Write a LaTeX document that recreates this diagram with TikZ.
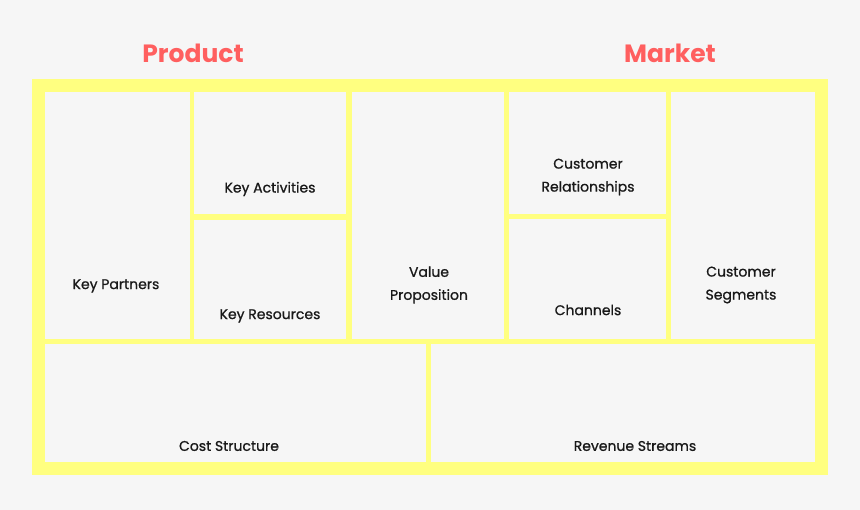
\documentclass[tikz,border=0pt]{standalone}
\usepackage{fontspec}
\setmainfont{Poppins}
\newfontfamily\lblfont[BoldFont=*,BoldFeatures={FakeBold=0.9}]{Poppins}
\definecolor{bg}{HTML}{F6F6F6}
\definecolor{yel}{HTML}{FFFF80}
\definecolor{red}{HTML}{FF5F5F}
\begin{document}
\begin{tikzpicture}[x=1pt,y=-1pt,
  cell/.style={fill=bg,draw=none},
  lbl/.style={font=\lblfont\bfseries\fontsize{14}{23}\selectfont,align=center,text=black!90},
  ttl/.style={font=\fontsize{25}{28}\selectfont\bfseries,text=red}]
\fill[bg] (0,0) rectangle (860,510);
\useasboundingbox (0,0) rectangle (860,510);
\fill[yel] (32,79) rectangle (828,475);
\fill[cell] (45,92) rectangle (190,339);
\fill[cell] (194,92) rectangle (346,214);
\fill[cell] (194,220) rectangle (346,339);
\fill[cell] (352,92) rectangle (504,339);
\fill[cell] (509,92) rectangle (666,214);
\fill[cell] (509,219) rectangle (666,339);
\fill[cell] (671,92) rectangle (815,339);
\fill[cell] (45,344) rectangle (426,462);
\fill[cell] (431,344) rectangle (815,462);
\node[ttl] (prod) at (193,53) {Product};
\node[ttl] (mkt) at (670,53) {Market};
\node[lbl] (kp) at (116,286) {Key Partners};
\node[lbl] (ka) at (270,189) {Key Activities};
\node[lbl] (kr) at (270,316) {Key Resources};
\node[lbl] (vp) at (429,285) {Value\\Proposition};
\node[lbl] (cr) at (588,177) {Customer\\Relationships};
\node[lbl] (ch) at (588,310) {Channels};
\node[lbl] (cs) at (741,285) {Customer\\Segments};
\node[lbl] (cost) at (229,446) {Cost Structure};
\node[lbl] (rev) at (635,446) {Revenue Streams};
\end{tikzpicture}
\end{document}
